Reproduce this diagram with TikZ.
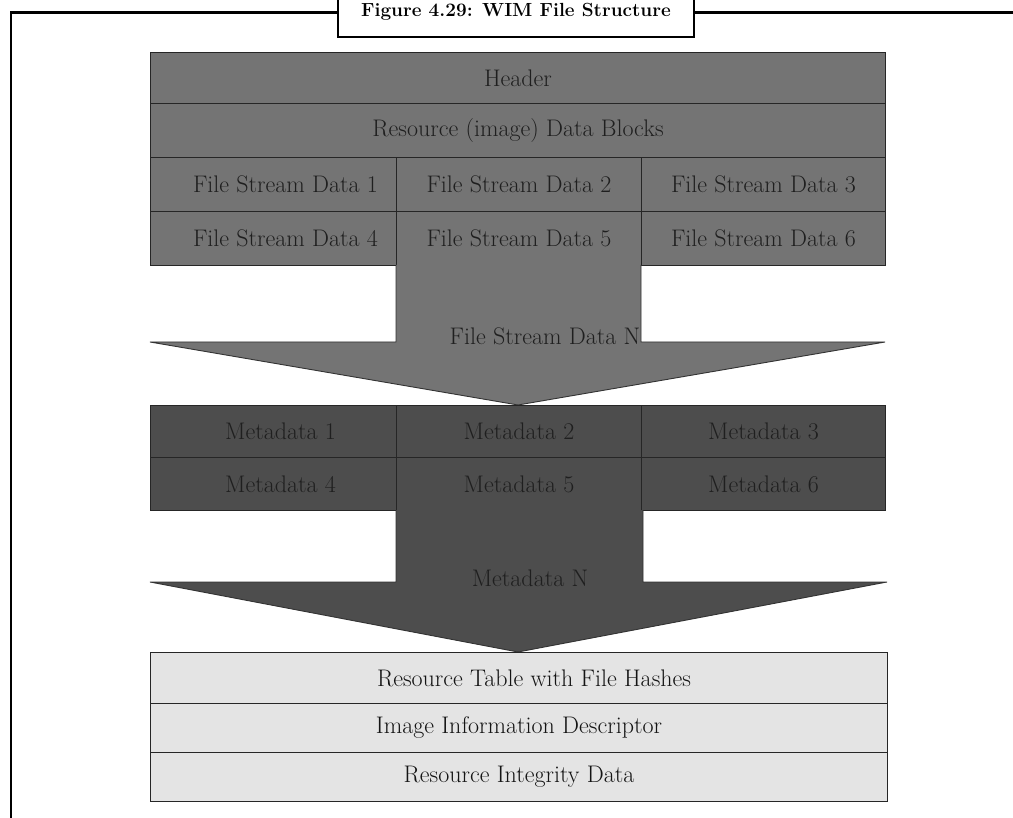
\documentclass[tikz,border=0pt]{standalone}
\begin{document}
\begin{tikzpicture}[x=1pt,y=-1pt,
  cell/.style={draw=black!85, line width=1pt, inner sep=0pt, anchor=north west,
    font=\fontsize{24}{28}\selectfont},
  topcell/.style={cell, fill=topgray, text=black!88},
  metacell/.style={cell, fill=metagray, text=black!88},
  basecell/.style={cell, fill=basegray, text=black!92},
  bigarrow/.style={draw=black!80, line width=0.9pt},
  lbl/.style={font=\fontsize{24}{28}\selectfont, inner sep=0pt}]
\definecolor{topgray}{HTML}{747474}
\definecolor{metagray}{HTML}{4D4D4D}
\definecolor{basegray}{HTML}{E4E4E4}
\useasboundingbox (0,0) rectangle (1013,818);
% frame
\node[draw, fill=white, line width=2.2pt, minimum width=356pt, minimum height=50pt,
  inner sep=0pt, font=\fontsize{19}{22}\selectfont\bfseries, text height=13pt, text depth=4pt] (title) at (516,12)
  {Figure 4.29: WIM File Structure};
\coordinate (fl) at (11,818);
\coordinate (fr) at (1020,12.5);
\draw[line width=2.2pt] (fl) |- (title.west |- 0,12.5);
\draw[line width=2.2pt] (title.east |- 0,12.5) -- (fr);
% top block
\node[topcell, minimum width=735pt, minimum height=51pt] (header) at (150,52) {Header};
\node[topcell, minimum width=735pt, minimum height=54pt] (res) at (150,103) {Resource (image) Data Blocks};
\node[topcell, minimum width=246pt, minimum height=54pt] (f1) at (150,157) {\hspace*{24pt}File Stream Data 1};
\node[topcell, minimum width=245pt, minimum height=54pt] (f2) at (396,157) {File Stream Data 2};
\node[topcell, minimum width=244pt, minimum height=54pt] (f3) at (641,157) {File Stream Data 3};
\node[topcell, minimum width=246pt, minimum height=54pt] (f4) at (150,211) {\hspace*{24pt}File Stream Data 4};
\node[topcell, minimum width=245pt, minimum height=54pt] (f5) at (396,211) {File Stream Data 5};
\node[topcell, minimum width=244pt, minimum height=54pt] (f6) at (641,211) {File Stream Data 6};
% arrow 1
\fill[topgray] (396,265) -- (641,265) -- (641,342) -- (885,342) -- (518,405) -- (150,342) -- (396,342) -- cycle;
\draw[bigarrow] (396,265) -- (396,342) -- (150,342) -- (518,405) -- (885,342) -- (641,342) -- (641,265);
\node[lbl, text=black!88] (fsn) at (545,336) {File Stream Data N};
% metadata block
\node[metacell, minimum width=246pt, minimum height=52pt] (m1) at (150,405) {\hspace*{14pt}Metadata 1};
\node[metacell, minimum width=245pt, minimum height=52pt] (m2) at (396,405) {Metadata 2};
\node[metacell, minimum width=244pt, minimum height=52pt] (m3) at (641,405) {Metadata 3};
\node[metacell, minimum width=246pt, minimum height=53pt] (m4) at (150,457) {\hspace*{14pt}Metadata 4};
\node[metacell, minimum width=245pt, minimum height=53pt] (m5) at (396,457) {Metadata 5};
\node[metacell, minimum width=244pt, minimum height=53pt] (m6) at (641,457) {Metadata 6};
% arrow 2
\fill[metagray] (396,510) -- (643,510) -- (643,582) -- (887,582) -- (518,652) -- (150,582) -- (396,582) -- cycle;
\draw[bigarrow] (396,510) -- (396,582) -- (150,582) -- (518,652) -- (887,582) -- (643,582) -- (643,510);
\node[lbl, text=black!88] (mn) at (530,578) {Metadata N};
% bottom block
\node[basecell, minimum width=737pt, minimum height=51pt] (rt) at (150,652) {\hspace*{30pt}Resource Table with File Hashes};
\node[basecell, minimum width=737pt, minimum height=49pt] (iid) at (150,703) {Image Information Descriptor};
\node[basecell, minimum width=737pt, minimum height=49pt] (rid) at (150,752) {Resource Integrity Data};
\end{tikzpicture}
\end{document}
